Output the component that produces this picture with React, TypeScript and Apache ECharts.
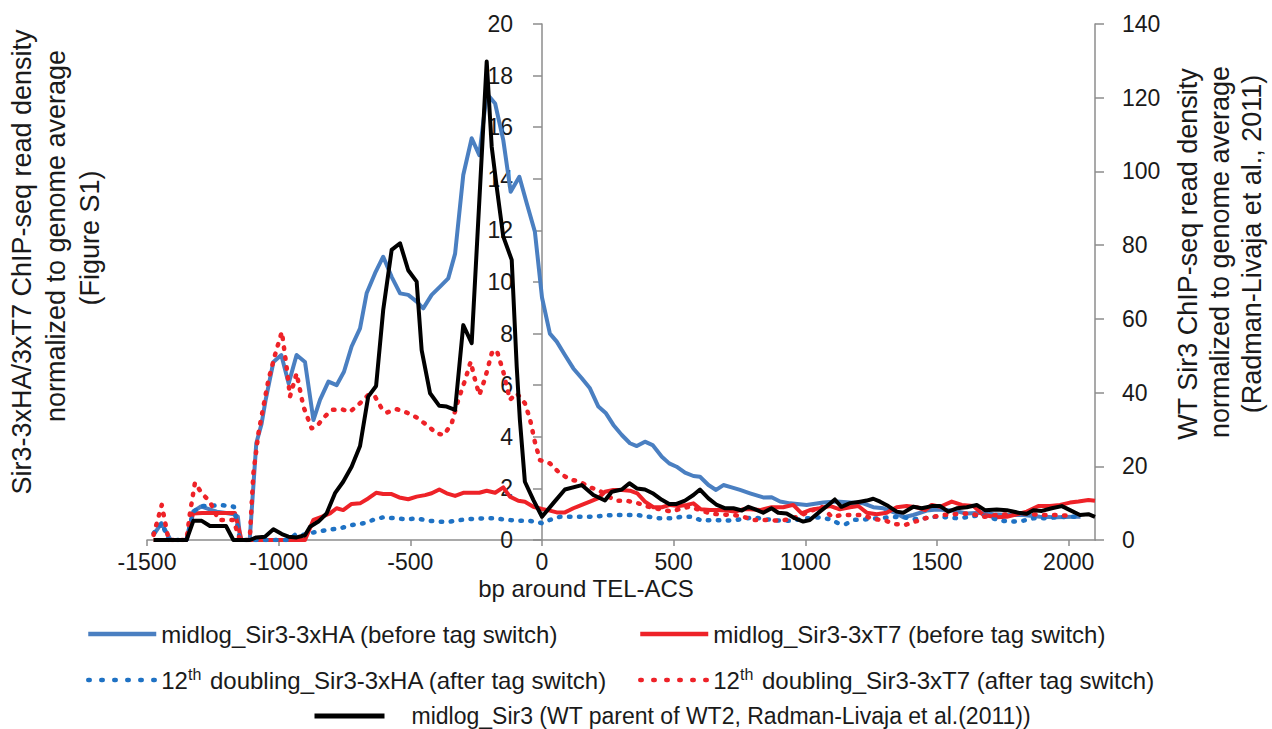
import React, { useEffect, useRef } from 'react';
import * as echarts from 'echarts';

const FONT = '"Liberation Sans", Arial, Helvetica, sans-serif';
const TEXT = '#1a1a1a';
const AXIS = '#8c8c8c';

const xTicks = { min: -1500, max: 2100, interval: 500 };
const leftTicks = { min: 0, max: 20, interval: 2 };
const rightTicks = { min: 0, max: 140, interval: 20 };

const seriesNames = [
  'midlog_Sir3-3xHA (before tag switch)',
  'midlog_Sir3-3xT7 (before tag switch)',
  '12th doubling_Sir3-3xHA (after tag switch)',
  '12th doubling_Sir3-3xT7 (after tag switch)',
  'midlog_Sir3 (WT parent of WT2, Radman-Livaja et al.(2011))',
];

// [bp around TEL-ACS, normalized read density]
const haBefore = [
  [-1475, 0.2], [-1445, 0.65], [-1410, 0], [-1350, 0], [-1325, 1.1], [-1295, 1.3], [-1265, 1.2], [-1235, 1.1],
  [-1200, 1.05], [-1170, 1.0], [-1155, 0.9], [-1145, 0], [-1110, 0], [-1085, 3.75], [-1065, 4.5], [-1050, 5.4],
  [-1020, 6.9], [-990, 7.17], [-962, 6.07], [-932, 7.17], [-900, 6.9], [-868, 4.65], [-843, 5.43], [-811, 6.14],
  [-780, 6.0], [-752, 6.52], [-723, 7.5], [-691, 8.2], [-666, 9.56], [-634, 10.34], [-603, 10.98], [-571, 10.2],
  [-539, 9.56], [-508, 9.5], [-476, 9.24], [-451, 8.98], [-419, 9.5], [-387, 9.82], [-356, 10.14], [-330, 11.1],
  [-299, 14.15], [-267, 15.57], [-238, 14.92], [-210, 17.3], [-178, 16.92], [-147, 15.5], [-119, 13.5], [-86, 14.08],
  [-58, 13.05], [-27, 11.95], [0, 9.4], [30, 8.0], [56, 7.69], [87, 7.17], [119, 6.65], [151, 6.27], [182, 5.88],
  [214, 5.17], [243, 4.91], [271, 4.46], [303, 4.07], [334, 3.75], [360, 3.64], [391, 3.81], [420, 3.68], [455, 3.23],
  [483, 2.97], [511, 2.84], [543, 2.61], [575, 2.48], [600, 2.45], [632, 2.13], [661, 1.94], [689, 2.13], [720, 2.04],
  [752, 1.94], [790, 1.81], [840, 1.65], [872, 1.66], [904, 1.49], [942, 1.42], [1005, 1.36], [1068, 1.45],
  [1119, 1.49], [1170, 1.45], [1220, 1.42], [1258, 1.27], [1296, 1.23], [1347, 1.03], [1372, 0.88], [1410, 0.97],
  [1461, 1.14], [1499, 1.18], [1562, 1.14], [1613, 1.03], [1664, 1.06], [1714, 1.0], [1765, 0.97], [1828, 0.97],
  [1891, 0.9], [1955, 0.88], [2018, 0.9], [2045, 0.9],
];

const t7Before = [
  [-1475, 0], [-1350, 0], [-1325, 1.03], [-1290, 1.05], [-1250, 1.05], [-1200, 1.05], [-1166, 1.05], [-1141, 0],
  [-1100, 0], [-900, 0], [-868, 0.78], [-837, 0.9], [-805, 1.03], [-780, 1.23], [-755, 1.16], [-723, 1.4],
  [-691, 1.42], [-660, 1.61], [-630, 1.83], [-603, 1.78], [-571, 1.78], [-542, 1.65], [-508, 1.58], [-476, 1.68],
  [-444, 1.74], [-419, 1.81], [-390, 1.96], [-362, 1.81], [-330, 1.71], [-299, 1.83], [-267, 1.83], [-238, 1.83],
  [-210, 1.91], [-178, 1.83], [-147, 2.04], [-122, 1.68], [-90, 1.52], [-65, 1.48], [-33, 1.29], [0, 1.2],
  [30, 1.14], [56, 1.07], [87, 1.07], [119, 1.23], [151, 1.36], [182, 1.49], [214, 1.62], [239, 1.87], [271, 1.94],
  [303, 1.94], [334, 1.91], [362, 1.81], [391, 1.49], [423, 1.27], [455, 1.27], [487, 1.36], [518, 1.32], [550, 1.36],
  [575, 1.42], [603, 1.19], [638, 1.16], [670, 1.16], [702, 1.14], [733, 1.1], [765, 1.19], [790, 1.19], [828, 1.16],
  [872, 1.27], [916, 1.27], [954, 1.36], [986, 1.03], [1017, 1.16], [1055, 1.23], [1093, 1.32], [1131, 1.19],
  [1170, 1.27], [1201, 1.32], [1233, 1.06], [1271, 1.0], [1309, 1.06], [1347, 1.27], [1385, 1.32], [1423, 1.27],
  [1455, 1.16], [1480, 1.36], [1512, 1.29], [1556, 1.49], [1594, 1.36], [1638, 1.32], [1676, 0.97], [1727, 0.88],
  [1765, 0.9], [1803, 1.0], [1841, 1.1], [1885, 1.32], [1929, 1.32], [1967, 1.36], [2005, 1.45], [2037, 1.49],
  [2075, 1.55], [2100, 1.52],
];

const ha12th = [
  [-1475, 0.26], [-1444, 0.66], [-1418, 0], [-1350, 0], [-1324, 1.1], [-1292, 1.32], [-1261, 1.32], [-1223, 1.36],
  [-1191, 1.32], [-1170, 1.29], [-1147, 0], [-963, 0], [-938, 0.2], [-906, 0.2], [-856, 0.32], [-805, 0.41],
  [-767, 0.45], [-723, 0.58], [-672, 0.66], [-641, 0.78], [-603, 0.88], [-558, 0.84], [-514, 0.8], [-476, 0.84],
  [-432, 0.75], [-394, 0.71], [-350, 0.71], [-305, 0.78], [-261, 0.82], [-216, 0.84], [-178, 0.84], [-134, 0.78],
  [-90, 0.75], [-52, 0.75], [-15, 0.69], [0, 0.65], [30, 0.78], [68, 0.9], [106, 0.9], [144, 0.9], [182, 0.9],
  [226, 0.93], [271, 0.97], [315, 0.97], [360, 0.97], [404, 0.9], [448, 0.84], [493, 0.84], [531, 0.9], [569, 0.9],
  [607, 0.75], [651, 0.78], [696, 0.75], [740, 0.78], [778, 0.84], [803, 0.88], [853, 0.8], [904, 0.75], [948, 0.75],
  [1005, 0.84], [1055, 0.88], [1093, 0.8], [1125, 0.65], [1154, 0.62], [1188, 0.78], [1233, 0.8], [1277, 0.84],
  [1322, 0.88], [1366, 0.9], [1410, 0.8], [1448, 0.84], [1493, 0.9], [1537, 0.88], [1581, 0.84], [1626, 0.9],
  [1664, 0.97], [1701, 0.88], [1739, 0.75], [1784, 0.71], [1828, 0.75], [1866, 0.84], [1910, 0.84], [1955, 0.88],
  [1999, 0.9], [2040, 0.9],
];

const t712th = [
  [-1475, 0.2], [-1444, 1.36], [-1418, 0], [-1350, 0], [-1337, 1.03], [-1318, 2.22], [-1292, 1.81], [-1261, 1.49],
  [-1229, 0.78], [-1197, 0.78], [-1172, 0.78], [-1147, 0], [-1110, 0], [-1096, 2.58], [-1077, 4.13], [-1058, 5.17],
  [-1039, 6.2], [-1014, 7.17], [-988, 8.07], [-970, 6.72], [-957, 5.56], [-932, 6.46], [-906, 5.17], [-875, 4.33],
  [-856, 4.39], [-831, 4.72], [-799, 5.04], [-761, 5.07], [-729, 4.97], [-691, 5.3], [-660, 5.62], [-634, 5.56],
  [-609, 5.1], [-590, 4.94], [-552, 5.07], [-514, 4.94], [-476, 4.75], [-438, 4.46], [-400, 4.13], [-372, 4.07],
  [-343, 4.52], [-318, 5.43], [-292, 6.2], [-271, 6.91], [-254, 6.2], [-238, 5.62], [-216, 6.27], [-191, 7.24],
  [-172, 7.36], [-147, 6.52], [-122, 5.43], [-96, 5.69], [-65, 5.3], [-46, 4.7], [-27, 3.8], [-8, 3.1], [30, 2.97],
  [68, 2.58], [106, 2.35], [144, 2.26], [182, 2.04], [214, 1.94], [252, 1.68], [284, 1.52], [322, 1.52], [366, 1.42],
  [404, 1.29], [448, 1.19], [493, 1.1], [531, 1.23], [562, 1.29], [600, 1.16], [638, 1.03], [676, 0.99], [727, 0.97],
  [765, 0.9], [803, 0.78], [853, 0.78], [897, 0.75], [942, 0.8], [986, 0.97], [1024, 1.14], [1062, 1.29], [1100, 0.9],
  [1144, 0.97], [1182, 0.97], [1220, 0.97], [1258, 0.8], [1296, 0.78], [1340, 0.62], [1378, 0.58], [1416, 0.71],
  [1455, 0.84], [1486, 0.9], [1524, 0.97], [1562, 1.0], [1626, 1.03], [1676, 0.9], [1727, 0.97], [1778, 1.0],
  [1828, 1.03], [1891, 0.97], [1955, 0.97], [2018, 0.93],
];

// WT Sir3 (right axis)
const wtSir3 = [
  [-1475, 0], [-1350, 0], [-1324, 5.2], [-1292, 5.2], [-1261, 3.8], [-1229, 3.8], [-1200, 3.8], [-1172, 0],
  [-1109, 0], [-1085, 0.7], [-1052, 0.9], [-1020, 2.9], [-988, 1.6], [-963, 0.9], [-932, 0.7], [-900, 1.3],
  [-881, 3.6], [-849, 5.0], [-818, 7.2], [-786, 12.7], [-755, 15.8], [-723, 19.9], [-691, 25.5], [-660, 38.9],
  [-630, 41.8], [-603, 62.4], [-571, 78.7], [-539, 80.5], [-508, 73.2], [-476, 70.1], [-457, 51.5], [-425, 39.8],
  [-390, 36.4], [-362, 36.2], [-330, 35.3], [-299, 58.3], [-267, 53.4], [-238, 92], [-210, 129.8], [-191, 106.7],
  [-172, 95.8], [-147, 82.3], [-115, 76], [-96, 47], [-84, 32.6], [-65, 15.8], [-33, 10.9], [0, 6.3], [43, 10],
  [87, 13.7], [151, 14.9], [195, 12.2], [239, 10.7], [265, 13.1], [303, 13.7], [332, 15.4], [360, 14.0], [391, 13.7],
  [420, 12.7], [455, 10.9], [483, 9.8], [511, 9.8], [543, 10.7], [575, 12.2], [600, 13.7], [632, 11.3], [664, 9.5],
  [696, 8.6], [727, 8.6], [759, 8.0], [784, 9.0], [810, 8.3], [840, 7.4], [872, 8.6], [897, 7.4], [929, 7.2],
  [960, 5.9], [992, 5.0], [1017, 5.4], [1055, 7.7], [1087, 9.5], [1112, 11.0], [1137, 9.0], [1170, 10.0],
  [1208, 10.4], [1233, 10.7], [1258, 11.2], [1284, 10.4], [1315, 9.2], [1347, 7.7], [1372, 7.4], [1410, 9.0],
  [1442, 8.6], [1480, 9.2], [1512, 9.2], [1543, 7.7], [1575, 8.6], [1613, 8.9], [1651, 9.5], [1682, 8.1],
  [1727, 8.3], [1765, 8.1], [1809, 7.4], [1841, 7.1], [1866, 8.1], [1898, 7.9], [1936, 8.6], [1974, 9.2],
  [2005, 8.1], [2043, 6.8], [2075, 7.0], [2100, 6.3],
];

const colors = ['#4a7fc1', '#ee2228', '#1f72c4', '#ee2228', '#000000'];

// grid geometry (pixels)
const GRID = { left: 147, right: 177, top: 24, bottom: 189 };
const PLOT_W = 1272 - GRID.left - GRID.right;

function buildOption(): any {
  const dotted = { type: [1.5, 8.5], cap: 'round', width: 4.5 };
  const lineSeries = (i: number, data: number[][], yAxisIndex: number, extra: any = {}) => ({
    type: 'line',
    name: seriesNames[i],
    data,
    yAxisIndex,
    symbol: 'none',
    smooth: false,
    color: colors[i],
    lineStyle: { color: colors[i], width: 4, join: 'round', ...extra },
    z: 2 + i,
  });

  const mkLegendText = (size: number) => ({
    fontFamily: FONT,
    fontSize: size,
    color: TEXT,
    lineHeight: 28,
    rich: { sup: { fontFamily: FONT, fontSize: Math.round(size * 0.65), color: TEXT, lineHeight: 28, verticalAlign: 'top', padding: [0, 2, 0, 0] } },
  });
  const legendBase = {
    orient: 'horizontal',
    padding: 0,
    itemWidth: 68,
    itemHeight: 14,
    selectedMode: false,
    itemStyle: { opacity: 0 },
    formatter: (n: string) => n.replace(/^12th/, '12{sup|th}'),
  };
  const solidIcon = { width: 4.5, type: 'solid', cap: 'butt' };
  const dottedIcon = { width: 4.5, type: [1.5, 11.5], cap: 'round' };

  const axisLabel = { fontFamily: FONT, fontSize: 23, color: TEXT, formatter: (v: number) => String(v) };

  const titleText = (text: string, x: number, y: number) => ({
    type: 'text',
    x,
    y,
    rotation: Math.PI / 2,
    style: { text, fontFamily: FONT, fontSize: 27, fill: TEXT, align: 'center', verticalAlign: 'middle' },
  });

  // left value axis sits on bp = 0
  const zeroOffset = -((0 - xTicks.min) / (xTicks.max - xTicks.min)) * PLOT_W;

  return {
    animation: false,
    backgroundColor: '#ffffff',
    grid: { ...GRID, containLabel: false },
    xAxis: {
      type: 'value',
      ...xTicks,
      axisLine: { show: true, onZero: true, lineStyle: { color: AXIS, width: 1.5 } },
      axisTick: { show: true, length: 6, lineStyle: { color: AXIS, width: 1.5 } },
      axisLabel: { ...axisLabel, margin: 10, showMaxLabel: false },
      splitLine: { show: false },
    },
    yAxis: [
      {
        type: 'value',
        ...leftTicks,
        position: 'left',
        offset: zeroOffset,
        axisLine: { show: true, onZero: false, lineStyle: { color: AXIS, width: 1.5 } },
        axisTick: { show: true, length: 9, lineStyle: { color: AXIS, width: 1.5 } },
        axisLabel: { ...axisLabel, margin: 29 },
        splitLine: { show: false },
      },
      {
        type: 'value',
        ...rightTicks,
        position: 'right',
        axisLine: { show: true, onZero: false, lineStyle: { color: AXIS, width: 1.5 } },
        axisTick: { show: true, length: 9, lineStyle: { color: AXIS, width: 1.5 } },
        axisLabel: { ...axisLabel, margin: 27 },
        splitLine: { show: false },
      },
    ],
    legend: [
      { ...legendBase, data: [seriesNames[0]], left: 86, top: 620, lineStyle: solidIcon, textStyle: mkLegendText(24) },
      { ...legendBase, data: [seriesNames[1]], left: 638, top: 620, lineStyle: solidIcon, textStyle: mkLegendText(24) },
      { ...legendBase, data: [seriesNames[2]], left: 86, top: 666, lineStyle: dottedIcon, textStyle: mkLegendText(24) },
      { ...legendBase, data: [seriesNames[3]], left: 638, top: 666, lineStyle: dottedIcon, textStyle: mkLegendText(24) },
      { ...legendBase, data: [seriesNames[4]], left: 312, top: 702, itemWidth: 70, lineStyle: { ...solidIcon, width: 5 }, textStyle: { ...mkLegendText(23), padding: [0, 0, 0, 22] } },
    ],
    graphic: [
      titleText('Sir3-3xHA/3xT7 ChIP-seq read density', 22, 262),
      titleText('normalized to genome average', 56, 236),
      titleText('(Figure S1)', 90, 238),
      titleText('WT Sir3 ChIP-seq read density', 1188, 254),
      titleText('normalized to genome average', 1220, 252),
      titleText('(Radman-Livaja et al., 2011)', 1252, 244),
      {
        type: 'text',
        x: 586,
        y: 588,
        style: { text: 'bp around TEL-ACS', fontFamily: FONT, fontSize: 24, fill: TEXT, align: 'center', verticalAlign: 'middle' },
      },
    ],
    series: [
      lineSeries(0, haBefore, 0),
      lineSeries(1, t7Before, 0),
      lineSeries(2, ha12th, 0, dotted),
      lineSeries(3, t712th, 0, dotted),
      lineSeries(4, wtSir3, 1),
    ],
  };
}

export default function App() {
  const ref = useRef<HTMLDivElement>(null);
  useEffect(() => {
    if (!ref.current) return;
    const chart = echarts.init(ref.current, null, { renderer: 'svg' });
    chart.setOption(buildOption());
    return () => chart.dispose();
  }, []);
  return (
    <div
      ref={ref}
      style={{ position: 'fixed', left: 0, top: 0, width: 1272, height: 729, background: '#fff' }}
    />
  );
}
